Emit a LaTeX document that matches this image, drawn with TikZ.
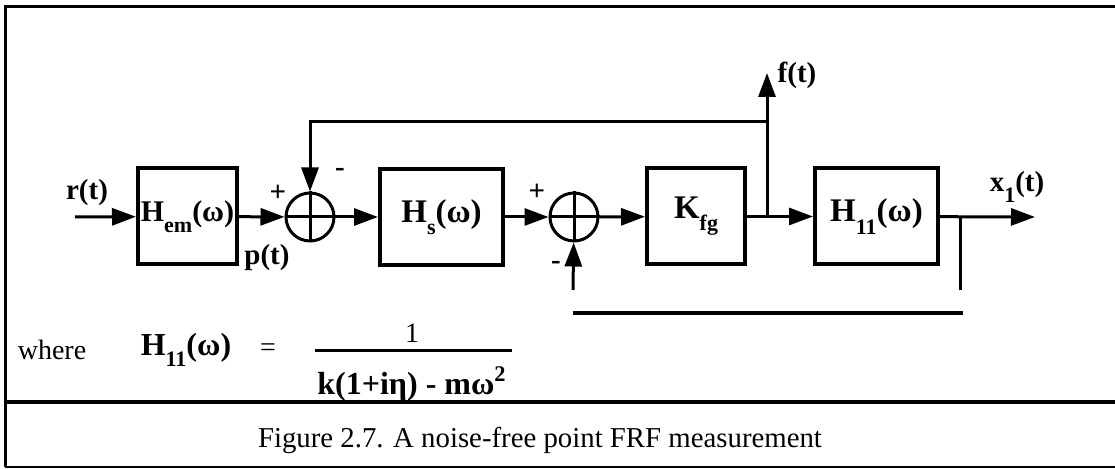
\documentclass[tikz,border=0pt]{standalone}
\usepackage{fontspec}
\setmainfont{Liberation Serif}
\usetikzlibrary{arrows.meta}

\newcommand{\lowsub}[1]{\raisebox{-0.8ex}{\fontsize{11}{11}\selectfont #1}}

\begin{document}
\begin{tikzpicture}[
    x=0.5pt, y=-0.5pt,
    line width=1.5pt,
    >={Triangle[length=12pt,width=8.5pt]},
    every node/.style={inner sep=0pt},
    block/.style={
        draw,
        line width=2pt,
        minimum height=48pt,
        font=\bfseries\fontsize{16.5}{18}\selectfont
    },
    sumnode/.style={
        draw,
        circle,
        minimum size=24pt,
        line width=1.5pt
    },
    sig/.style={font=\bfseries\fontsize{14.5}{16}\selectfont},
    eqn/.style={font=\bfseries\fontsize{16}{18}\selectfont},
    plain/.style={font=\fontsize{14}{16}\selectfont}
]

\useasboundingbox (0,0) rectangle (1115,469);

\draw[line width=1.5pt] (1115,7) -- (5,7) -- (5,467);
\draw[line width=2.2pt] (5,402) -- (1115,402);
\draw[line width=1pt] (5,467) -- (1115,467);

\node[block, minimum width=49.5pt, font=\bfseries\fontsize{15}{18}\selectfont] (hem) at (187.5,216.5) {H\lowsub{em}(ω)};
\node[sumnode] (s1) at (310,217) {};
\node[block, minimum width=61.5pt] (hs) at (441.5,217) {H\lowsub{s}(ω)};
\node[sumnode] (s2) at (574,217) {};
\node[block, minimum width=49pt] (kfg) at (696,216.5) {K\lowsub{fg}};
\node[block, minimum width=61.5pt] (h11) at (876.5,216.5) {H\lowsub{11}(ω)};

\node[sig] (rt) at (87,193) {r(t)};
\node[sig] (pt) at (267,258) {p(t)};
\node[sig] (ft) at (797,75) {f(t)};
\node[sig] (xt) at (1017,187) {x\lowsub{1}(t)};
\node[sig] (plusa) at (278,193) {+};
\node[sig] (minusa) at (340,172) {-};
\node[sig] (plusb) at (537,192) {+};
\node[sig] (minusb) at (556,265) {-};

\coordinate (in) at (75,217);
\coordinate (out) at (1035,217);
\coordinate (tap) at (767,217);
\coordinate (ftip) at (767,73);
\coordinate (fb) at (767,122);
\coordinate (xtap) at (960,217);
\coordinate (xend) at (960,290);
\coordinate (s2foot) at (573,290);
\coordinate (lowl) at (573,313);
\coordinate (lowr) at (963,313);

\draw (s1.north) -- (s1.south) (s1.west) -- (s1.east);
\draw (s2.north) -- (s2.south) (s2.west) -- (s2.east);

\draw[->] (in) -- (hem);
\draw[->] (hem) -- (s1);
\draw[->] (s1) -- (hs);
\draw[->] (hs) -- (s2);
\draw[->] (s2) -- (kfg);
\draw[->] (kfg) -- (h11);
\draw[->] (h11) -- (out);
\draw[->] (tap) -- (ftip);
\draw[->] (fb) -| (s1);
\draw[->] (s2foot) -- (s2);
\draw (xtap) -- (xend);
\draw[line width=2pt] (lowl) -- (lowr);

\node[plain] (where) at (52,350) {where};
\node[eqn] (heq) at (186,350) {H\lowsub{11}(ω)};
\node[plain] (eq) at (268,350) {=};
\node[plain] (num) at (412,333) {1};
\node[eqn] (den) at (412,384) {k(1+iη) - mω\textsuperscript{2}};
\coordinate (barl) at (315,351);
\coordinate (barr) at (512,351);
\draw (barl) -- (barr);

\node[font=\fontsize{14.4}{18}\selectfont] (cap) at (540,440) {Figure 2.7. A noise-free point FRF measurement};

\end{tikzpicture}
\end{document}
